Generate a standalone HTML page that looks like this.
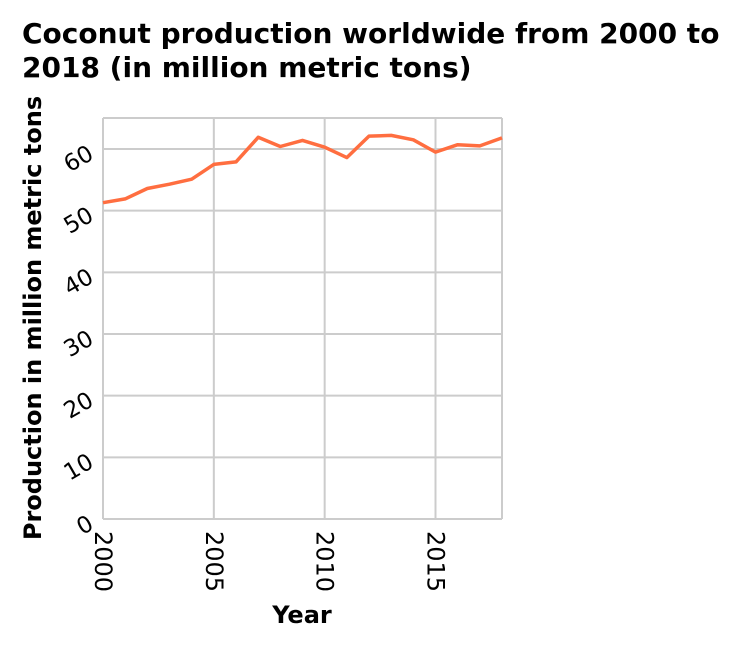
<!DOCTYPE html>
<html><head><meta charset="utf-8"><style>
html,body{margin:0;padding:0;background:#fff;}
svg{display:block;font-family:"DejaVu Sans","Liberation Sans",sans-serif;}
</style></head><body>
<svg id="chart" width="750" height="646">
<text x="22" y="43" font-size="28" font-weight="bold" fill="#000">Coconut production worldwide from 2000 to</text>
<text x="22" y="77" font-size="28" font-weight="bold" fill="#000">2018 (in million metric tons)</text>
<g id="grid"></g>
<g id="yticks"></g>
<g id="xticks"></g>
<path id="line" fill="none" stroke="#ff6e40" stroke-width="3.5" stroke-linejoin="round"></path>
<text x="302" y="623" font-size="24" font-weight="bold" text-anchor="middle">Year</text>
<text transform="translate(41,318) rotate(-90)" font-size="24" font-weight="bold" text-anchor="middle">Production in million metric tons</text>
</svg>
<script>
const years=[2000,2001,2002,2003,2004,2005,2006,2007,2008,2009,2010,2011,2012,2013,2014,2015,2016,2017,2018];
const production=[51.3,51.9,53.6,54.3,55.1,57.5,57.9,61.9,60.4,61.4,60.3,58.6,62.1,62.2,61.5,59.5,60.7,60.5,61.8];
const yTicks=[0,10,20,30,40,50,60];
const xTicks=[2000,2005,2010,2015];
const X0=103,X1=502,Y0=519,Y1=118;
const x=v=>X0+(v-2000)/18*(X1-X0);
const y=v=>Y0-v/60*(Y0-149);
const ns="http://www.w3.org/2000/svg";
const grid=document.getElementById('grid'),yt=document.getElementById('yticks'),xt=document.getElementById('xticks');
function mk(tag,attrs,parent){const e=document.createElementNS(ns,tag);for(const k in attrs)e.setAttribute(k,attrs[k]);parent.appendChild(e);return e;}
yTicks.forEach(v=>{
 const l=mk('line',{x1:X0,x2:X1,y1:y(v),y2:y(v),stroke:'#ccc','stroke-width':2},grid);
 
 
 const t=mk('text',{transform:`translate(${X0-8},${y(v)+9}) rotate(-30)`,'font-size':23,'text-anchor':'end',fill:'#000'},yt);
 t.textContent=v;
 
 
});
const tb=mk('line',{x1:X0,x2:X1,y1:Y1,y2:Y1,stroke:'#ccc','stroke-width':2},grid);


xTicks.concat([2018]).forEach(v=>{
 const l=mk('line',{x1:x(v),x2:x(v),y1:Y1,y2:Y0,stroke:'#ccc','stroke-width':2},grid);
 
 
});
xTicks.forEach(v=>{
 const t=mk('text',{transform:`translate(${x(v)-8},${Y0+12}) rotate(90)`,'font-size':24,'text-anchor':'start',fill:'#000'},xt);
 t.textContent=v;
 
 
});
document.getElementById('line').setAttribute('d',years.map((yr,i)=>(i?'L':'M')+x(yr).toFixed(1)+','+y(production[i]).toFixed(1)).join(''));
</script>
</body></html>
